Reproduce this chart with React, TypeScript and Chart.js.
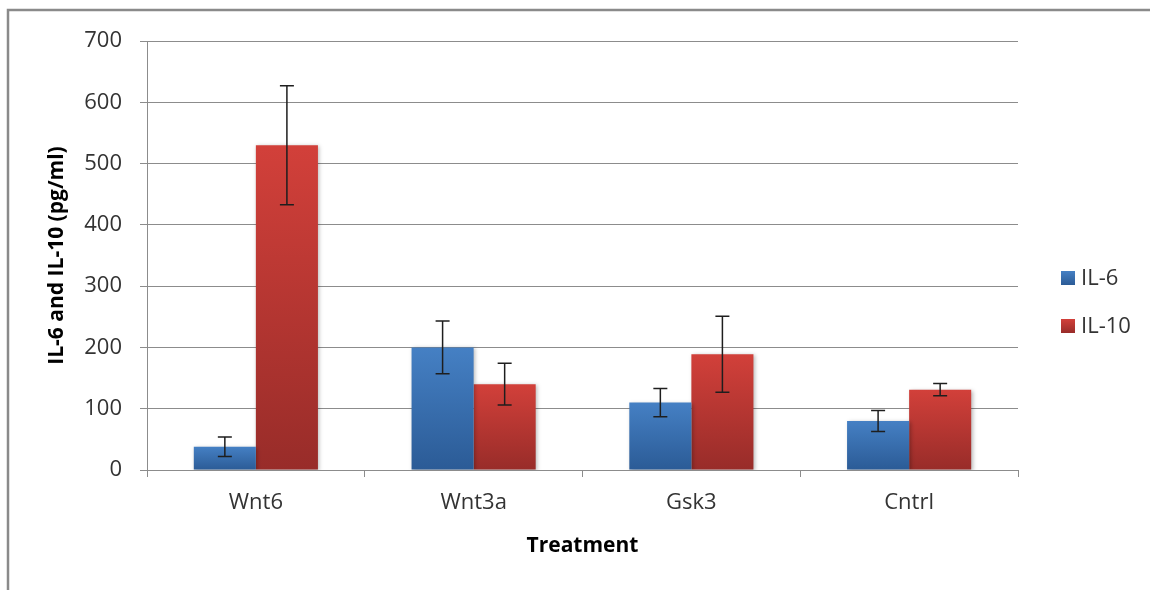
import React, { useEffect, useRef } from "react";
import { Chart, registerables } from "chart.js";

Chart.register(...registerables);

const categories = ["Wnt6", "Wnt3a", "Gsk3", "Cntrl"];
const il6Values = [38, 200, 110, 80];
const il6Errors = [16, 43, 23, 17];
const il10Values = [530, 140, 189, 131];
const il10Errors = [97, 34, 62, 10];
const seriesNames = ["IL-6", "IL-10"];
const yTicks = [0, 100, 200, 300, 400, 500, 600, 700];
const yTitle = "IL-6 and IL-10 (pg/ml)";
const xTitle = "Treatment";

const FONT = "'Open Sans', 'Liberation Sans', sans-serif";
const TEXT = "#333333";
const GRID = "#8c8c8c";

const palettes = [
  { top: "#4580c4", bottom: "#2b5b96" },
  { top: "#d2403a", bottom: "#982c29" },
];

function barGradient(ctx: any, idx: number) {
  const chart = ctx.chart;
  const pal = palettes[idx];
  if (!chart.chartArea || !chart.scales || !chart.scales.y || ctx.type !== "data") return pal.top;
  const y = chart.scales.y;
  const v = ctx.parsed ? ctx.parsed.y : ctx.raw;
  const top = y.getPixelForValue(v);
  const base = y.getPixelForValue(0);
  if (!isFinite(top) || !isFinite(base) || Math.abs(base - top) < 1) return pal.top;
  const g = chart.ctx.createLinearGradient(0, top, 0, base);
  g.addColorStop(0, pal.top);
  g.addColorStop(1, pal.bottom);
  return g;
}

const errorLists = [il6Errors, il10Errors];

const framePlugin = {
  id: "frame",
  beforeDraw(chart: any) {
    const c = chart.ctx;
    c.save();
    c.fillStyle = "#ffffff";
    c.fillRect(0, 0, chart.width, chart.height);
    c.strokeStyle = "#8a8a8a";
    c.lineWidth = 2.5;
    c.beginPath();
    c.moveTo(8, chart.height);
    c.lineTo(8, 10);
    c.lineTo(chart.width, 10);
    c.stroke();
    c.restore();
  },
  beforeDatasetDraw(chart: any) {
    const c = chart.ctx;
    c.save();
    c.shadowColor = "rgba(0,0,0,0.28)";
    c.shadowBlur = 4;
    c.shadowOffsetX = 1.5;
    c.shadowOffsetY = 1;
  },
  afterDatasetDraw(chart: any) {
    chart.ctx.restore();
  },
  afterDatasetsDraw(chart: any) {
    const c = chart.ctx;
    const y = chart.scales.y;
    const area = chart.chartArea;
    c.save();
    c.strokeStyle = "#1e1e1e";
    c.lineWidth = 1.5;
    chart.data.datasets.forEach((ds: any, di: number) => {
      const meta = chart.getDatasetMeta(di);
      meta.data.forEach((el: any, i: number) => {
        const v = ds.data[i];
        const e = errorLists[di][i];
        const x = el.x;
        const yHi = y.getPixelForValue(v + e);
        const yLo = y.getPixelForValue(v - e);
        c.beginPath();
        c.moveTo(x, yHi);
        c.lineTo(x, yLo);
        c.moveTo(x - 7, yHi);
        c.lineTo(x + 7, yHi);
        c.moveTo(x - 7, yLo);
        c.lineTo(x + 7, yLo);
        c.stroke();
      });
    });
    // legend
    const midY = (area.top + area.bottom) / 2;
    const lx = area.right + 43;
    const rows = [midY + 22.5, midY + 70.5];
    c.font = `22px ${FONT}`;
    c.textBaseline = "middle";
    c.textAlign = "left";
    rows.forEach((ry, i) => {
      const g = c.createLinearGradient(0, ry - 7, 0, ry + 7);
      g.addColorStop(0, palettes[i].top);
      g.addColorStop(1, palettes[i].bottom);
      c.fillStyle = g;
      c.fillRect(lx, ry - 7, 14, 14);
      c.fillStyle = TEXT;
      c.fillText(seriesNames[i], lx + 20, ry + 1);
    });
    // y axis title
    c.save();
    c.translate(57, midY);
    c.rotate(-Math.PI / 2);
    c.font = `bold 21px ${FONT}`;
    c.fillStyle = "#000";
    c.textAlign = "center";
    c.textBaseline = "middle";
    c.fillText(yTitle, 0, 0);
    c.restore();
    c.restore();
  },
};

export default function App() {
  const ref = useRef<HTMLCanvasElement | null>(null);
  useEffect(() => {
    if (!ref.current) return;
    const chart = new Chart(ref.current, {
      type: "bar",
      data: {
        labels: categories,
        datasets: [
          {
            label: seriesNames[0],
            data: il6Values,
            backgroundColor: (ctx: any) => barGradient(ctx, 0),
            categoryPercentage: 0.57,
            barPercentage: 1,
            borderWidth: 0,
          },
          {
            label: seriesNames[1],
            data: il10Values,
            backgroundColor: (ctx: any) => barGradient(ctx, 1),
            categoryPercentage: 0.57,
            barPercentage: 1,
            borderWidth: 0,
          },
        ],
      },
      options: {
        animation: false,
        responsive: false,
        devicePixelRatio: 1,
        layout: { padding: { left: 0, right: 132, top: 41, bottom: 0 } },
        plugins: { legend: { display: false }, tooltip: { enabled: false } },
        scales: {
          x: {
            grid: {
              display: true,
              drawOnChartArea: false,
              drawTicks: true,
              tickLength: 7,
              color: GRID,
              offset: true,
            },
            border: { display: true, color: GRID, width: 1 },
            ticks: { color: TEXT, font: { family: FONT, size: 22 }, padding: 13 },
            title: {
              display: true,
              text: xTitle,
              color: "#000",
              font: { family: FONT, size: 21, weight: "bold" },
              padding: { top: 0, bottom: 31 },
            },
            afterFit(scale: any) {
              scale.height = 120;
            },
          },
          y: {
            min: 0,
            max: 700,
            afterBuildTicks(scale: any) {
              scale.ticks = yTicks.map((v) => ({ value: v }));
            },
            grid: { color: GRID, tickLength: 7, drawTicks: true },
            border: { display: true, color: GRID, width: 1 },
            ticks: { color: TEXT, font: { family: FONT, size: 22 }, padding: 18 },
            title: { display: false },
            afterFit(scale: any) {
              scale.width = 147;
            },
          },
        },
      },
      plugins: [framePlugin],
    });
    return () => chart.destroy();
  }, []);
  return (
    <canvas
      ref={ref}
      width={1150}
      height={590}
      style={{ position: "fixed", left: 0, top: 0, width: 1150, height: 590 }}
    />
  );
}
